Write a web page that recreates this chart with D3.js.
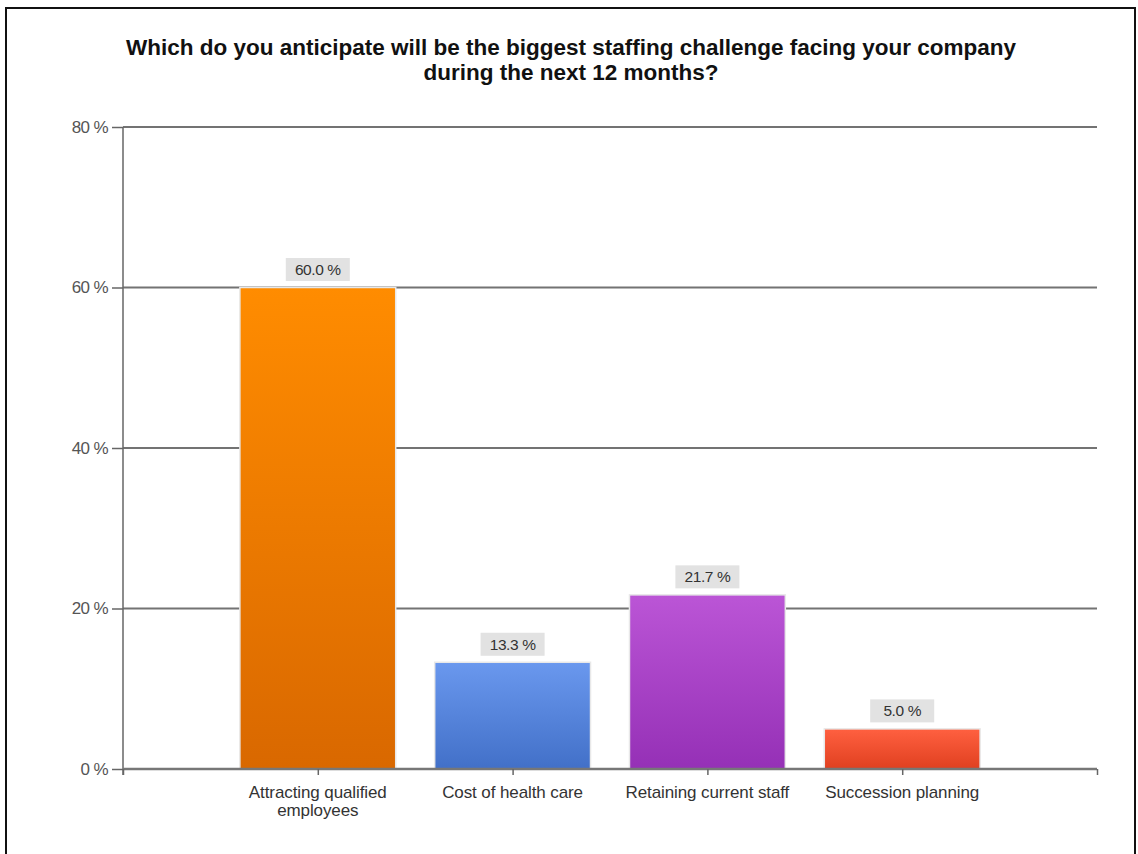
<!DOCTYPE html>
<html>
<head>
<meta charset="utf-8">
<title>Biggest staffing challenge</title>
<script src="https://d3js.org/d3.v7.min.js"></script>
<style>
  body { margin: 0; padding: 0; background: #fff; }
  text { font-family: Arial, "Liberation Sans", sans-serif; }
</style>
</head>
<body>
<div id="chart"></div>
<script>
// data
var categories = ["Attracting qualified employees", "Cost of health care", "Retaining current staff", "Succession planning"];
var labelLines = [["Attracting qualified", "employees"], ["Cost of health care"], ["Retaining current staff"], ["Succession planning"]];
var values = [60.0, 13.3, 21.7, 5.0];
var yTicks = [0, 20, 40, 60, 80];
var barColors = [["#ff8c00", "#d96800"], ["#6a98ee", "#4270c8"], ["#bb55d6", "#9530b6"], ["#ff6040", "#e04020"]];

var width = 1138, height = 854;
var margin = {top: 127, left: 123, right: 41, bottom: 85};

var svg = d3.select("#chart").append("svg")
  .attr("width", width)
  .attr("height", height);

// outer frame
svg.append("rect")
  .attr("x", 6).attr("y", 8)
  .attr("width", 1129).attr("height", 860)
  .attr("fill", "#fff")
  .attr("stroke", "#111")
  .attr("stroke-width", 2);

// title
var titleLines = ["Which do you anticipate will be the biggest staffing challenge facing your company", "during the next 12 months?"];
svg.append("g")
  .selectAll("text")
  .data(titleLines)
  .enter().append("text")
    .attr("x", 571)
    .attr("y", function(d, i) { return 55 + i * 25; })
    .attr("text-anchor", "middle")
    .style("font-size", "22.5px").style("font-weight", "bold").style("fill", "#111")
    .text(function(d) { return d; });

var x = d3.scaleLinear()
  .domain([0, categories.length + 1])
  .range([margin.left, width - margin.right]);

var y = d3.scaleLinear()
  .domain([0, 80])
  .range([height - margin.bottom, margin.top]);

var step = x(1) - x(0);
var barW = step * 0.8;

var defs = svg.append("defs");
barColors.forEach(function(c, i) {
  var g = defs.append("linearGradient")
    .attr("id", "grad" + i)
    .attr("x1", 0).attr("y1", 0).attr("x2", 0).attr("y2", 1);
  g.append("stop").attr("offset", "0%").attr("stop-color", c[0]);
  g.append("stop").attr("offset", "100%").attr("stop-color", c[1]);
});

// gridlines
svg.append("g")
  .selectAll("line")
  .data(yTicks.filter(function(d) { return d > 0; }))
  .enter().append("line")
    .attr("x1", x(0)).attr("x2", x(categories.length + 1))
    .attr("y1", function(d) { return y(d); })
    .attr("y2", function(d) { return y(d); })
    .attr("stroke", "#737373")
    .attr("stroke-width", 2.2);

// y axis
var yAxis = svg.append("g")
  .attr("transform", "translate(" + x(0) + ",0)")
  .call(d3.axisLeft(y).tickValues(yTicks).tickSize(11).tickFormat(function(d) { return d + " %"; }));
yAxis.select(".domain").attr("stroke", "#666").attr("stroke-width", 1.5)
  .attr("d", "M0," + y(80) + "V" + (y(0) + 6));
yAxis.selectAll(".tick line").attr("stroke", "#666").attr("stroke-width", 1.5);
yAxis.selectAll(".tick text")
  .attr("x", -15)
  .attr("font-size", null).attr("font-family", null)
  .style("font-size", "17px").style("fill", "#555").style("letter-spacing", "-0.6px");

// bars
svg.append("g")
  .selectAll("rect")
  .data(values)
  .enter().append("rect")
    .attr("x", function(d, i) { return x(i + 1) - barW / 2; })
    .attr("y", function(d) { return y(d); })
    .attr("width", barW)
    .attr("height", function(d) { return y(0) - y(d); })
    .attr("fill", function(d, i) { return "url(#grad" + i + ")"; })
    .attr("stroke", "#e8e8e8")
    .attr("stroke-width", 1.5);

// x axis
var xAxis = svg.append("g")
  .attr("transform", "translate(0," + y(0) + ")")
  .call(d3.axisBottom(x).tickValues([0, 1, 2, 3, 4, 5]).tickSize(6).tickFormat(""));
xAxis.select(".domain").attr("stroke", "#777").attr("stroke-width", 2.5).attr("d", "M" + x(0) + ",0H" + x(5));
xAxis.selectAll(".tick line").attr("stroke", "#666").attr("stroke-width", 1.5);

// category labels
svg.append("g")
  .selectAll("text")
  .data(labelLines)
  .enter().append("text")
    .attr("text-anchor", "middle")
    .style("font-size", "17px").style("fill", "#333").style("letter-spacing", "-0.1px")
    .each(function(lines, i) {
      d3.select(this).selectAll("tspan")
        .data(lines)
        .enter().append("tspan")
          .attr("x", x(i + 1))
          .attr("y", function(d, j) { return y(0) + 29 + j * 18; })
          .text(function(d) { return d; });
    });

// value labels with grey box
var vl = svg.append("g")
  .selectAll("g")
  .data(values)
  .enter().append("g")
    .attr("transform", function(d, i) { return "translate(" + x(i + 1) + "," + (y(d) - 18) + ")"; });
vl.append("rect")
  .attr("x", -32).attr("y", -11.5)
  .attr("width", 64).attr("height", 23)
  .attr("fill", "#e2e2e2");
vl.append("text")
  .attr("text-anchor", "middle")
  .attr("dy", "0.36em")
  .style("font-size", "15.5px").style("fill", "#333").style("letter-spacing", "-0.4px")
  .text(function(d) { return d.toFixed(1) + " %"; });
</script>
</body>
</html>
